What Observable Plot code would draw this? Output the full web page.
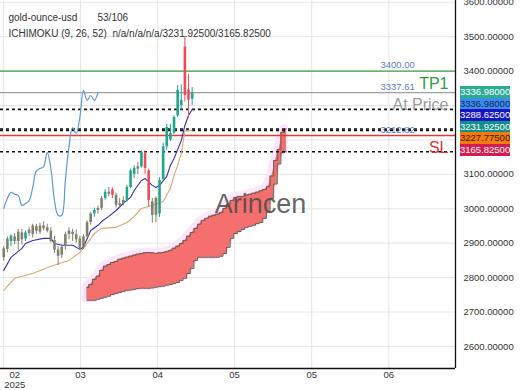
<!DOCTYPE html>
<html><head><meta charset="utf-8">
<script src="https://cdn.jsdelivr.net/npm/d3@7"></script>
<script src="https://cdn.jsdelivr.net/npm/@observablehq/plot@0.6"></script>
<style>
body{margin:0;background:#fff;font-family:"Liberation Sans",Arial,sans-serif;}
#wrap{position:relative;width:520px;height:390px;overflow:hidden;background:#fff}
.tag{position:absolute;left:460px;width:50px;height:11.6px;font-size:9.5px;line-height:11.6px;text-align:center;font-family:"Liberation Sans",Arial,sans-serif;}
</style></head><body><div id="wrap"></div>
<script>
// ---- candles (daily), index 0..52
const open  = [2858,2882,2905,2918,2905,2930,2912,2928,2925,2948,2932,2950,2945,2935,2908,2880,2865,2890,2925,2932,2925,2912,2888,2918,2960,2985,2995,3001,3030,3048,3055,3039,3010,3015,3024,3062,3100,3115,3122,3160,3110,3020,3030,2985,3085,3180,3200,3220,3270,3300,3470,3345,3318];
const high  = [2890,2918,2925,2928,2940,2940,2935,2945,2955,2955,2958,2962,2955,2945,2920,2890,2895,2932,2945,2940,2938,2920,2925,2965,2990,3002,3008,3036,3056,3062,3060,3045,3030,3035,3068,3115,3125,3135,3168,3168,3115,3030,3035,3090,3190,3245,3245,3270,3358,3360,3500,3390,3352];
const low   = [2848,2872,2890,2895,2880,2895,2905,2920,2915,2925,2925,2935,2930,2900,2870,2835,2855,2880,2910,2905,2900,2878,2882,2912,2952,2975,2985,2995,3025,3035,3030,3002,3002,3008,3020,3058,3088,3100,3118,3100,3005,2958,2960,2975,3080,3170,3195,3215,3265,3285,3310,3262,3300];
const close = [2884,2912,2920,2905,2932,2910,2930,2938,2950,2935,2950,2942,2935,2905,2880,2862,2888,2925,2935,2925,2910,2885,2918,2960,2985,2995,3001,3030,3048,3042,3039,3010,3015,3024,3062,3110,3117,3122,3164,3117,3024,2981,2981,3082,3180,3236,3219,3265,3344,3315,3329,3315,3336.98];
const kind  = ["g","g","u","g","g","g","u","g","g","g","g","g","g","g","g","g","g","g","g","g","g","g","g","g","g","u","g","g","u","g","d","g","g","g","u","u","u","g","u","d","d","g","g","u","u","u","u","u","u","u","d","d","u"];
const kindColor = {u:"#22a58a", d:"#ec4b5c", g:"#80806f"};

// ---- Ichimoku lines: [index, value]
const tenkan = [[0,2821],[2,2859],[5,2885],[6,2899],[8,2908],[11,2914],[13,2914],[14,2899],[16,2894],[19,2894],[21,2882],[22,2888],[24,2937],[26,2952],[27,2963],[29,2978],[31,2995],[33,3016],[35,3033],[36,3053],[38,3082],[39,3088],[41,3068],[42,3062],[43,3068],[45,3094],[46,3126],[47,3146],[49,3198],[50,3242],[51,3271],[52,3288.625]];
const kijun = [[0,2763],[3,2798],[8,2812],[13,2833],[18,2850],[21,2873],[23,2899],[25,2928],[27,2943],[31,2946],[34,2960],[36,2978],[38,3001],[41,3010],[44,3021],[46,3059],[47,3097],[48,3126],[49,3160],[50,3226],[51,3228],[52,3227.775]];
const chikou = [3001,3030,3048,3042,3039,3010,3015,3024,3062,3110,3117,3122,3164,3117,3024,2981,2981,3082,3180,3236,3219,3265,3344,3315,3329,3315,3336.98];
const spanStart = 23;
const spanA = [2771,2780,2795,2804,2821,2833,2838,2844,2847,2853,2856,2859,2862,2865,2868,2870,2872,2873,2872,2870,2872,2873,2876,2879,2885,2891,2899,2908,2920,2931,2943,2955,2966,2972,2978,2981,2984,2989,3001,3013,3024,3033,3036,3036,3039,3042,3045,3048,3052,3056,3065,3095,3140,3172,3222,3231.925];
const spanB = [2734,2734,2734,2737,2740,2743,2746,2751,2754,2757,2760,2763,2764,2766,2768,2769,2769,2769,2770,2772,2774,2775,2778,2780,2783,2786,2792,2798,2812,2827,2850,2859,2859,2859,2859,2859,2859,2862,2870,2888,2914,2928,2934,2940,2946,2949,2952,2957,2960,2972,2990,3030,3072,3130,3163,3165.825];

// ---- levels
const levelVals = [3400, 3337.61, 3212.82];
const levelText = ["3400.00", "3337.61", "3212.82"];
const levelNames = ["TP1", "At Price", "SL"];
const levelColors = ["#3f9b3f", "#a0a0a0", "#e53935"];
const levelNameColors = ["#2e9c3c", "#9a9a9a", "#e0303a"];
const dashVals = [3288.625, 3231.925, 3227.775, 3165.825];

// ---- axes
const yTicks = [2600,2700,2800,2900,3000,3100,3200,3300,3400,3500,3600];
const yTickLabels = [2600,2700,2800,2900,3000,3100,3400,3500,3600];
const xTickPos = [0, 21.2, 42.5, 63.7, 85, 106.3];
const xTickText = ["02\n2025", "03", "04", "05", "05", "06"];

// ---- right price tags
const tagVals = ["3336.98000","3336.98000","3288.62500","3231.92500","3227.77500","3165.82500"];
const tagBg = ["#2bab94","#3a8ee6","#1414c4","#12918a","#f57a0e","#d81b4f"];
const tagFg = ["#ffffff","#14206a","#ffffff","#ffffff","#3a1800","#ffffff"];

const candles = open.map((o, i) => ({i, o, h: high[i], l: low[i], c: close[i], col: kindColor[kind[i]]}));
const span = spanA.map((a, k) => ({i: spanStart + k, a, b: spanB[k]}));
const chik = chikou.map((v, i) => ({i, v}));

const chart = Plot.plot({
  width: 520, height: 390,
  marginLeft: 0, marginRight: 65, marginTop: 0, marginBottom: 22,
  style: {fontFamily: '"Liberation Sans", Arial, sans-serif', fontSize: "9.5px", background: "#fff"},
  x: {type: "linear", domain: [-0.9, 124.7], axis: null},
  y: {domain: [2536, 3605], axis: null},
  marks: [
    Plot.gridY(yTicks, {stroke: "#e6e6e6", strokeOpacity: 1}),
    Plot.gridX(xTickPos, {stroke: "#e6e6e6", strokeOpacity: 1}),
    // cloud glow
    Plot.areaY(span, {x: "i", y1: "a", y2: "b", fill: "#fde6fb", stroke: "#fde6fb", strokeWidth: 7, strokeLinejoin: "round", dx: -1.5, dy: -1}),
    Plot.areaY(span, {x: "i", y1: "a", y2: "b", curve: "step", fill: "#a98874"}),
    Plot.areaY(span, {x: "i", y1: "a", y2: "b", curve: "linear", fill: "#f56f6f"}),
    Plot.line(span, {x: "i", y: "a", curve: "step", stroke: "#6e5a4e", strokeWidth: 1}),
    Plot.line(span, {x: "i", y: "b", curve: "step", stroke: "#6e5a4e", strokeWidth: 1}),
    // level lines
    Plot.ruleY(levelVals, {stroke: levelColors, strokeWidth: 1.3}),
    Plot.ruleY(dashVals, {stroke: "#111", strokeWidth: 1.6, strokeDasharray: "3,3"}),
    // ichimoku lines
    Plot.line(kijun, {x: d => d[0], y: d => d[1], stroke: "#d6a874", strokeWidth: 1.1}),
    Plot.line(tenkan, {x: d => d[0], y: d => d[1], stroke: "#3a2fa8", strokeWidth: 1.1}),
    Plot.line(chik, {x: "i", y: "v", curve: "catmull-rom", stroke: "#5b9bd8", strokeWidth: 1.2}),
    // candles
    Plot.ruleX(candles, {x: "i", y1: "l", y2: "h", stroke: "col", strokeWidth: 1}),
    Plot.ruleX(candles, {x: "i", y1: "o", y2: "c", stroke: "col", strokeWidth: 2.6}),
    // level labels
    Plot.text(levelVals, {y: d => d, text: levelText, frameAnchor: "right", textAnchor: "start", dx: -75, dy: -6, fill: "#5d7fc4", fontSize: 9.5}),
    Plot.text(levelVals, {y: d => d, text: levelNames, frameAnchor: "right", textAnchor: "end", dx: -7, dy: 12.5, fill: levelNameColors, fontSize: 16}),
    // watermark
    Plot.text(["Arincen"], {text: d => d, frameAnchor: "top-left", dx: 260, dy: 193, textAnchor: "middle", fontSize: 27, fill: "#4a4a4a", fillOpacity: 0.85}),
    // header
    Plot.text(["gold-ounce-usd"], {text: d => d, frameAnchor: "top-left", dx: 8, dy: 13, textAnchor: "start", fontSize: 10, fill: "#333"}),
    Plot.text(["53/106"], {text: d => d, frameAnchor: "top-left", dx: 97, dy: 13, textAnchor: "start", fontSize: 10, fill: "#333"}),
    Plot.text(["ICHIMOKU (9, 26, 52)  n/a/n/a/n/a/3231.92500/3165.82500"], {text: d => d, frameAnchor: "top-left", dx: 8, dy: 29, textAnchor: "start", fontSize: 10, fill: "#333"}),
    // frame lines
    Plot.ruleX([124.7], {stroke: "#111", strokeWidth: 1.3}),
    Plot.ruleY([2536], {stroke: "#111", strokeWidth: 1.3}),
    // axes
    Plot.axisY(yTickLabels, {anchor: "right", tickSize: 0, tickPadding: 8, tickFormat: d => d.toFixed(5), color: "#333", fontSize: 9.5}),
    Plot.text(xTickPos.slice(1), {x: d => d, text: xTickText.slice(1), frameAnchor: "bottom", lineAnchor: "top", dy: 3, fill: "#333", fontSize: 9.5}),
    Plot.text(xTickPos.slice(0, 1), {x: d => d, text: xTickText.slice(0, 1), frameAnchor: "bottom", lineAnchor: "top", dy: 3, dx: 11, lineHeight: 1, fill: "#333", fontSize: 9.5})
  ]
});
const wrap = document.getElementById("wrap");
wrap.appendChild(chart);
tagVals.forEach((v, k) => {
  const d = document.createElement("div");
  d.className = "tag";
  d.style.top = (86 + k * 11.6) + "px";
  d.style.background = tagBg[k];
  d.style.color = tagFg[k];
  d.textContent = v;
  wrap.appendChild(d);
});
</script></body></html>
